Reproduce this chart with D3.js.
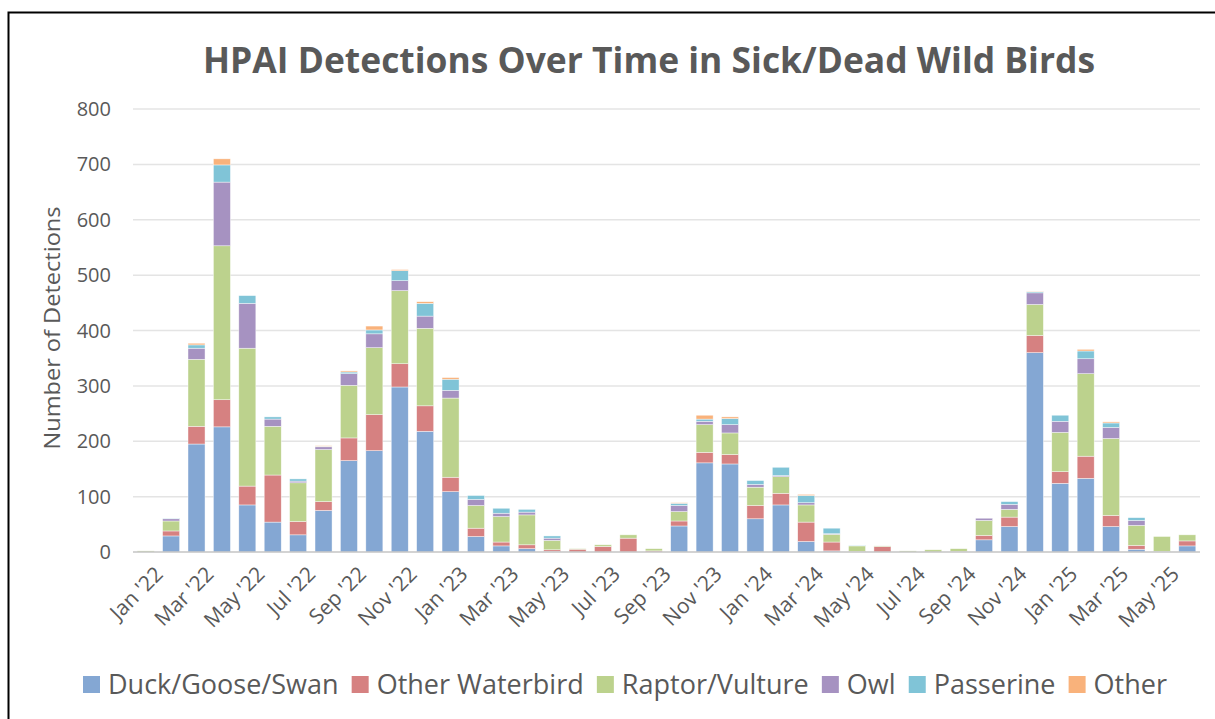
<!DOCTYPE html>
<html>
<head>
<meta charset="utf-8">
<script src="https://cdn.jsdelivr.net/npm/d3@7"></script>
<style>
  body { margin: 0; background: #fff; }
  text { font-family: "Open Sans", "Noto Sans", sans-serif; fill: #595959; }
</style>
</head>
<body>
<div id="chart"></div>
<script>
// monthly detections, Jan '22 .. Jun '25
var months = ["Jan '22","Feb '22","Mar '22","Apr '22","May '22","Jun '22","Jul '22","Aug '22","Sep '22","Oct '22","Nov '22","Dec '22",
  "Jan '23","Feb '23","Mar '23","Apr '23","May '23","Jun '23","Jul '23","Aug '23","Sep '23","Oct '23","Nov '23","Dec '23",
  "Jan '24","Feb '24","Mar '24","Apr '24","May '24","Jun '24","Jul '24","Aug '24","Sep '24","Oct '24","Nov '24","Dec '24",
  "Jan '25","Feb '25","Mar '25","Apr '25","May '25","Jun '25"];

var duck      = [0,29,195,226,85,54,31,75,165,183,298,218, 109,28,11,6,1,0,0,0,0,47,161,159, 60,85,19,2,0,0,0,0,0,22,46,360, 124,133,46,5,1,11];
var waterbird = [0,9,32,49,34,85,24,16,41,65,42,46, 26,15,7,7,3,5,10,25,2,9,19,17, 24,21,35,16,1,10,0,0,1,8,17,31, 21,40,20,7,0,9];
var raptor    = [2,18,121,278,249,88,70,94,95,121,132,140, 143,41,46,54,17,1,3,6,4,17,50,39, 33,30,31,14,10,1,2,4,5,27,14,56, 71,149,139,36,27,11];
var owl       = [0,4,20,115,81,13,3,5,21,25,18,22, 14,11,6,5,4,0,0,0,0,11,6,15, 5,2,4,1,0,0,0,0,0,4,9,21, 20,27,20,9,0,0];
var passerine = [0,1,6,31,14,4,4,1,3,7,18,23, 20,7,9,5,4,0,0,0,0,4,4,11, 7,15,13,10,1,0,0,0,0,0,5,2, 11,14,8,5,0,0];
var other     = [0,0,3,11,0,0,0,1,2,7,2,3, 3,0,0,0,0,0,0,0,0,1,7,3, 0,0,2,0,0,0,0,0,0,0,0,1, 0,3,2,0,0,0];

var seriesNames = ["Duck/Goose/Swan","Other Waterbird","Raptor/Vulture","Owl","Passerine","Other"];
var yTicks = [0,100,200,300,400,500,600,700,800];

var colors = ["#84a7d3","#d68181","#bcd28d","#a692c1","#80c4d7","#f9b27b"];

var width = 1215, height = 719;
var plotLeft = 133, plotRight = 1200, plotTop = 109, plotBottom = 552;

var svg = d3.select("#chart").append("svg")
    .attr("width", width)
    .attr("height", height);

// frame around the chart (only top/left edges are inside the picture)
svg.append("rect")
    .attr("x", 8.5).attr("y", 12.5)
    .attr("width", 1300).attr("height", 800)
    .attr("fill", "none").attr("stroke", "#000").attr("stroke-width", 2);

// build rows for the stack
var rows = months.map(function(m, i) {
  return { month: m, s0: duck[i], s1: waterbird[i], s2: raptor[i], s3: owl[i], s4: passerine[i], s5: other[i] };
});
var keys = ["s0","s1","s2","s3","s4","s5"];
var stacked = d3.stack().keys(keys)(rows);

var x = d3.scaleBand()
    .domain(months)
    .range([plotLeft, plotRight])
    .paddingInner(0.33)
    .paddingOuter(0.165);

var y = d3.scaleLinear()
    .domain([0, 800])
    .range([plotBottom, plotTop]);

// gridlines
svg.append("g")
  .selectAll("line")
  .data(yTicks.slice(1))
  .join("line")
    .attr("x1", plotLeft).attr("x2", plotRight)
    .attr("y1", function(d) { return y(d); })
    .attr("y2", function(d) { return y(d); })
    .attr("stroke", "#e4e4e4").attr("stroke-width", 1.5);

// y tick labels
svg.append("g")
  .selectAll("text")
  .data(yTicks)
  .join("text")
    .attr("x", 111)
    .attr("y", function(d) { return y(d) + 7; })
    .attr("text-anchor", "end")
    .style("font-size", "20px")
    .text(function(d) { return d; });

// bars
svg.append("g")
  .selectAll("g")
  .data(stacked)
  .join("g")
    .attr("fill", function(d, i) { return colors[i]; })
  .selectAll("rect")
  .data(function(d) { return d; })
  .join("rect")
    .attr("x", function(d) { return x(d.data.month); })
    .attr("width", x.bandwidth())
    .attr("y", function(d) { return y(d[1]); })
    .attr("height", function(d) { return Math.max(0, y(d[0]) - y(d[1])); })
    .attr("stroke", "#ffffff").attr("stroke-width", 0.6).attr("stroke-opacity", 0.7);

// zero line
svg.append("line")
    .attr("x1", plotLeft).attr("x2", plotRight)
    .attr("y1", y(0)).attr("y2", y(0))
    .attr("stroke", "#c4c4c4").attr("stroke-width", 1.5);

// x labels, every other month, rotated
svg.append("g")
  .selectAll("text")
  .data(months.filter(function(d, i) { return i % 2 === 0; }))
  .join("text")
    .attr("transform", function(d) {
      return "translate(" + (x(d) + x.bandwidth() / 2 + 8) + "," + (y(0) + 13) + ") rotate(-45)";
    })
    .attr("text-anchor", "end")
    .attr("dy", "0.71em")
    .style("font-size", "21px")
    .text(function(d) { return d; });

// y axis label
svg.append("text")
    .attr("transform", "translate(60,328) rotate(-90)")
    .attr("text-anchor", "middle")
    .attr("textLength", 243)
    .attr("lengthAdjust", "spacingAndGlyphs")
    .style("font-size", "22px")
    .text("Number of Detections");

// title
svg.append("text")
    .attr("x", 649).attr("y", 73)
    .attr("text-anchor", "middle")
    .attr("textLength", 892)
    .attr("lengthAdjust", "spacingAndGlyphs")
    .style("font-size", "35px")
    .style("font-weight", "bold")
    .text("HPAI Detections Over Time in Sick/Dead Wild Birds");

// legend: lay out items in a row, spread to span 83..1167
var legend = svg.append("g");
var items = legend.selectAll("g")
  .data(seriesNames)
  .join("g");
items.append("rect")
    .attr("width", 17).attr("height", 17)
    .attr("y", 676)
    .attr("fill", function(d, i) { return colors[i]; });
items.append("text")
    .attr("x", 25)
    .attr("y", 694)
    .style("font-size", "27px")
    .text(function(d) { return d; });

var widths = [];
items.each(function() { widths.push(25 + d3.select(this).select("text").node().getComputedTextLength()); });
var total = d3.sum(widths);
var gap = (1167 - 83 - total) / (seriesNames.length - 1);
var pos = 83;
items.attr("transform", function(d, i) {
  var t = "translate(" + pos + ",0)";
  pos += widths[i] + gap;
  return t;
});
</script>
</body>
</html>
